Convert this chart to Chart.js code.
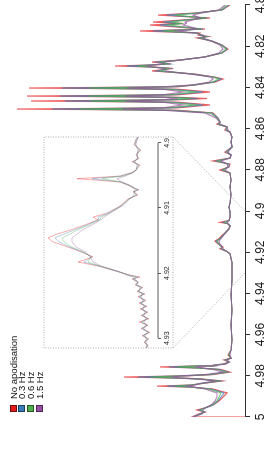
<!DOCTYPE html>
<html>
<head>
<meta charset="utf-8">
<script src="https://cdn.jsdelivr.net/npm/chart.js@4.4.1/dist/chart.umd.min.js"></script>
<style>
    body { margin: 0; background: #fff; overflow: hidden; width: 279px; height: 475px; }
    #wrap { position: absolute; left: 0; top: 0; width: 475px; height: 279px;
            transform-origin: 0 0; transform: translateY(475px) rotate(-90deg); }
    #wrap canvas { position: absolute; left: 0; top: 0; }
    #legend { position: absolute; left: 63px; top: 9.5px; font: 9.5px 'Liberation Sans', Arial, sans-serif;
              color: #111; line-height: 8.7px; }
    #legend .row { white-space: nowrap; height: 8.7px; }
    #legend .box { display: inline-block; width: 5px; height: 5px; margin-right: 6px; vertical-align: 0px; }
</style>
</head>
<body>
<div id="wrap">
    <canvas id="mainChart" width="475" height="279"></canvas>
    <canvas id="insetChart" width="475" height="279"></canvas>
    <div id="legend"></div>
</div>
<script>
// series names (legend)
const seriesNames = ['No apodisation', '0.3 Hz', '0.6 Hz', '1.5 Hz'];

// main spectrum: chemical shift (ppm) and intensity per apodisation
const ppm = [4.8000, 4.8024, 4.8039, 4.8049, 4.8063, 4.8083, 4.8090, 4.8097, 4.8107, 4.8117,
    4.8126, 4.8136, 4.8146, 4.8153, 4.8160, 4.8175, 4.8194, 4.8214, 4.8233, 4.8252,
    4.8267, 4.8277, 4.8286, 4.8291, 4.8296, 4.8301, 4.8308, 4.8320, 4.8335, 4.8350,
    4.8359, 4.8374, 4.8388, 4.8397, 4.8403, 4.8409, 4.8422, 4.8436, 4.8442, 4.8448,
    4.8454, 4.8460, 4.8466, 4.8472, 4.8485, 4.8499, 4.8505, 4.8511, 4.8524, 4.8549,
    4.8568, 4.8578, 4.8592, 4.8607, 4.8617, 4.8641, 4.8665, 4.8689, 4.8714, 4.8728,
    4.8743, 4.8757, 4.8772, 4.8786, 4.8801, 4.8816, 4.8850, 4.8883, 4.8922, 4.8961,
    4.8981, 4.9003, 4.9029, 4.9046, 4.9055, 4.9062, 4.9072, 4.9086, 4.9108, 4.9114,
    4.9134, 4.9146, 4.9160, 4.9175, 4.9183, 4.9197, 4.9208, 4.9230, 4.9250, 4.9280,
    4.9300, 4.9335, 4.9408, 4.9481, 4.9553, 4.9626, 4.9675, 4.9699, 4.9714, 4.9723,
    4.9733, 4.9743, 4.9748, 4.9752, 4.9757, 4.9762, 4.9769, 4.9782, 4.9794, 4.9800,
    4.9806, 4.9812, 4.9816, 4.9825, 4.9837, 4.9845, 4.9850, 4.9855, 4.9864, 4.9883,
    4.9903, 4.9922, 4.9942, 4.9956, 4.9966, 4.9976, 4.9985, 5.0000, 5.0000];
const noApod = [3, 11, 38, 75, 23, 80, 50, 83, 56, 28,
    93, 33, 35, 25, 36, 21, 11, 5, 11, 28,
    53, 81, 62, 80, 118, 80, 60, 81, 38, 18,
    10, 18, 38, 55, 204, 55, 23, 55, 206, 55,
    26, 55, 202, 55, 23, 55, 216, 55, 20, 15,
    13, 16, 6, 8, 3, 1, 2, 1, 8, 2,
    3, 20, 3, 4, 13, 3, 2, 3, 2, 3,
    4, 3, 3, 4, 13, 5, 3, 4, 8, 10,
    14, 18, 15, 10, 13, 6, 3, 2, 1, 1,
    1, 1, 2, 1, 2, 1, 2, 5, 2, 9,
    4, 10, 20, 35, 73, 35, 12, 3, 20, 45,
    109, 45, 30, 11, 30, 42, 76, 42, 20, 6,
    10, 14, 20, 28, 36, 28, 34, 41, -12];
const hz03 = [4, 11, 36, 66, 26, 70, 52, 73, 52, 30,
    80, 35, 33, 26, 34, 21, 11, 6, 11, 28,
    52, 76, 64, 82, 106, 82, 63, 76, 40, 19,
    12, 19, 38, 60, 171, 60, 30, 60, 173, 60,
    35, 60, 168, 60, 30, 60, 181, 60, 21, 15,
    13, 15, 6, 7, 3, 1, 2, 1, 7, 2,
    3, 17, 4, 4, 11, 3, 2, 3, 2, 3,
    4, 3, 3, 4, 10, 5, 3, 4, 8, 9,
    13, 17, 14, 11, 12, 6, 3, 2, 1, 1,
    1, 1, 2, 1, 2, 1, 2, 4, 2, 8,
    4, 9, 19, 36, 64, 36, 14, 5, 22, 48,
    95, 48, 32, 13, 31, 42, 66, 42, 22, 9,
    12, 15, 20, 28, 34, 28, 33, 40, 40];
const hz06 = [6, 12, 34, 58, 29, 62, 52, 64, 48, 32,
    70, 36, 31, 27, 32, 22, 12, 7, 12, 28,
    52, 72, 66, 82, 96, 82, 65, 72, 41, 20,
    14, 21, 39, 64, 144, 64, 38, 64, 145, 64,
    42, 64, 143, 64, 38, 64, 153, 64, 23, 16,
    13, 14, 6, 6, 3, 1, 2, 1, 6, 2,
    3, 15, 5, 5, 10, 3, 2, 3, 2, 3,
    4, 3, 3, 4, 8, 5, 3, 4, 8, 9,
    13, 16, 14, 11, 11, 6, 3, 2, 1, 1,
    1, 1, 2, 1, 2, 1, 2, 4, 2, 7,
    4, 8, 18, 36, 56, 36, 16, 7, 24, 50,
    82, 50, 33, 15, 32, 42, 58, 42, 24, 12,
    14, 16, 21, 28, 32, 29, 32, 40, 40];
const hz15 = [8, 14, 32, 40, 33, 48, 47, 50, 42, 36,
    56, 38, 30, 28, 30, 22, 13, 10, 14, 28,
    52, 68, 70, 80, 86, 80, 68, 68, 43, 22,
    20, 24, 40, 70, 106, 70, 50, 70, 108, 70,
    55, 70, 108, 70, 50, 70, 111, 70, 28, 17,
    13, 13, 6, 5, 3, 1, 2, 1, 5, 2,
    3, 12, 6, 5, 8, 3, 2, 3, 2, 3,
    4, 3, 3, 4, 6, 5, 3, 4, 8, 9,
    12, 14, 13, 11, 10, 6, 3, 2, 1, 1,
    1, 1, 2, 1, 2, 1, 2, 3, 2, 6,
    4, 7, 16, 30, 36, 30, 20, 10, 28, 52,
    60, 52, 35, 18, 33, 38, 46, 38, 28, 16,
    16, 18, 22, 28, 30, 30, 31, 40, 40];

// zoomed inset, 4.90 - 4.93 ppm
const insetPpm = [4.8991, 4.8995, 4.9003, 4.9011, 4.9018, 4.9024, 4.9029, 4.9034, 4.9042, 4.9046,
    4.9051, 4.9055, 4.9060, 4.9065, 4.9068, 4.9072, 4.9075, 4.9080, 4.9086, 4.9097,
    4.9108, 4.9114, 4.9118, 4.9126, 4.9134, 4.9140, 4.9146, 4.9152, 4.9160, 4.9168,
    4.9175, 4.9183, 4.9189, 4.9197, 4.9203, 4.9206, 4.9209, 4.9214, 4.9218, 4.9222,
    4.9228, 4.9232, 4.9236, 4.9242, 4.9246, 4.9251, 4.9255, 4.9260, 4.9265, 4.9270,
    4.9275, 4.9280, 4.9285, 4.9291, 4.9296, 4.9301, 4.9306, 4.9311, 4.9315];
const insetNoApod = [12, 14, 16, 9, 14, 11, 18, 10, 14, 19,
    30, 73, 30, 22, 18, 11, 17, 12, 22, 30,
    43, 57, 52, 65, 80, 93, 102, 97, 82, 68,
    57, 72, 52, 34, 20, 10, 18, 12, 15, 7,
    13, 5, 12, 4, 11, 3, 10, 2, 9, 1,
    11, 2, 9, 0, 8, 1, 6, 2, 4];
const insetHz03 = [12, 14, 15, 10, 13, 12, 17, 11, 14, 18,
    29, 58, 30, 21, 18, 12, 16, 13, 21, 29,
    42, 52, 51, 63, 76, 86, 95, 91, 80, 67,
    58, 66, 51, 33, 21, 12, 17, 12, 14, 8,
    12, 6, 11, 5, 10, 4, 9, 3, 8, 2,
    9, 3, 8, 1, 7, 2, 5, 2, 4];
const insetHz06 = [12, 13, 15, 11, 13, 12, 16, 12, 14, 18,
    27, 48, 29, 21, 17, 13, 16, 14, 21, 29,
    41, 49, 50, 61, 73, 80, 88, 86, 78, 66,
    59, 62, 50, 33, 22, 14, 16, 12, 14, 9,
    12, 7, 10, 6, 9, 5, 8, 4, 7, 3,
    8, 3, 7, 2, 6, 3, 5, 3, 4];
const insetHz15 = [12, 13, 14, 12, 13, 13, 15, 13, 14, 17,
    25, 33, 28, 20, 17, 15, 16, 16, 20, 28,
    40, 46, 49, 58, 68, 73, 78, 78, 74, 64,
    60, 57, 49, 32, 23, 17, 15, 12, 13, 10,
    11, 8, 9, 7, 8, 6, 7, 5, 6, 4,
    6, 4, 6, 3, 5, 4, 4, 3, 4];

// axis ticks
const mainTicks = [4.8, 4.82, 4.84, 4.86, 4.88, 4.9, 4.92, 4.94, 4.96, 4.98, 5];
const mainTickLabels = ['4.8', '4.82', '4.84', '4.86', '4.88', '4.9', '4.92', '4.94', '4.96', '4.98', '5'];
const insetTicks = [4.9, 4.91, 4.92, 4.93];
const insetTickLabels = ['4.9', '4.91', '4.92', '4.93'];

const colors = ['228,26,28', '55,126,184', '77,175,74', '152,78,163'];
const fontFamily = "'Liberation Sans', Arial, sans-serif";

function makeDatasets(xs, seriesList, alpha, width) {
    return seriesList.map((vals, k) => ({
        label: seriesNames[k],
        data: xs.map((x, i) => ({ x: x, y: vals[i] })),
        borderColor: `rgba(${colors[k]},${alpha})`,
        borderWidth: width,
        pointRadius: 0,
        tension: 0,
        fill: false,
        order: 4 - k
    }));
}

const mainChart = new Chart(document.getElementById('mainChart'), {
    type: 'line',
    data: { datasets: makeDatasets(ppm, [noApod, hz03, hz06, hz15], 0.7, 1.2) },
    options: {
        responsive: false,
        animation: false,
        devicePixelRatio: 1,
        layout: { padding: { left: 58, right: 5, top: 10, bottom: 4 } },
        plugins: { legend: { display: false }, tooltip: { enabled: false } },
        scales: {
            x: {
                type: 'linear',
                reverse: true,
                min: 4.8,
                max: 5,
                afterBuildTicks: (s) => { s.ticks = mainTicks.map(v => ({ value: v })); },
                afterFit: (s) => { s.height = 30; s.paddingLeft = 0; s.paddingRight = 0; },
                grid: { drawOnChartArea: false, drawTicks: true, tickLength: 5, color: '#333' },
                border: { display: true, color: '#333', width: 1 },
                ticks: {
                    autoSkip: false,
                    maxRotation: 0,
                    padding: 3,
                    color: '#222',
                    font: { family: fontFamily, size: 12 },
                    callback: (v, i) => mainTickLabels[i]
                }
            },
            y: { display: false, min: -12, max: 223 }
        }
    }
});

// dotted frame, inset axis line and the two guide lines to the main axis
const insetDecor = {
    id: 'insetDecor',
    afterDraw(chart) {
        const ctx = chart.ctx;
        const area = chart.chartArea;
        const sx = chart.scales.x;
        const mx = mainChart.scales.x;
        const mainBottom = mainChart.chartArea.bottom;
        const boxBottom = area.bottom + 15;
        ctx.save();
        ctx.strokeStyle = '#333';
        ctx.lineWidth = 0.8;
        ctx.beginPath();
        ctx.moveTo(sx.getPixelForValue(insetTicks[0]), area.bottom);
        ctx.lineTo(sx.getPixelForValue(insetTicks[insetTicks.length - 1]), area.bottom);
        ctx.stroke();
        ctx.strokeStyle = '#999';
        ctx.setLineDash([1, 1.5]);
        ctx.strokeRect(area.left, area.top, area.right - area.left, boxBottom - area.top);
        ctx.beginPath();
        ctx.moveTo(area.right, boxBottom);
        ctx.lineTo(mx.getPixelForValue(insetTicks[0]), mainBottom);
        ctx.moveTo(area.left, boxBottom);
        ctx.lineTo(mx.getPixelForValue(insetTicks[insetTicks.length - 1]), mainBottom);
        ctx.stroke();
        ctx.restore();
    }
};

new Chart(document.getElementById('insetChart'), {
    type: 'line',
    data: { datasets: makeDatasets(insetPpm, [insetNoApod, insetHz03, insetHz06, insetHz15], 0.45, 0.8) },
    options: {
        responsive: false,
        animation: false,
        devicePixelRatio: 1,
        layout: { padding: { left: 127, right: 137, top: 44, bottom: 107 } },
        plugins: { legend: { display: false }, tooltip: { enabled: false } },
        scales: {
            x: {
                type: 'linear',
                reverse: true,
                min: 4.8991,
                max: 4.9315,
                afterBuildTicks: (s) => { s.ticks = insetTicks.map(v => ({ value: v })); },
                afterFit: (s) => { s.height = 14; s.paddingLeft = 0; s.paddingRight = 0; },
                grid: { drawOnChartArea: false, drawTicks: true, tickLength: 3, color: '#333', lineWidth: 0.8 },
                border: { display: false },
                ticks: {
                    autoSkip: false,
                    maxRotation: 0,
                    padding: 2,
                    color: '#222',
                    font: { family: fontFamily, size: 7 },
                    callback: (v, i) => insetTickLabels[i]
                }
            },
            y: { display: false, min: -8, max: 106 }
        }
    },
    plugins: [insetDecor]
});

// legend
const legend = document.getElementById('legend');
seriesNames.forEach((name, k) => {
    const row = document.createElement('div');
    row.className = 'row';
    row.innerHTML = `<span class="box" style="background: rgb(${colors[k]}); border: 0.5px solid rgba(0,0,0,0.5)"></span>${name}`;
    legend.appendChild(row);
});
</script>
</body>
</html>
